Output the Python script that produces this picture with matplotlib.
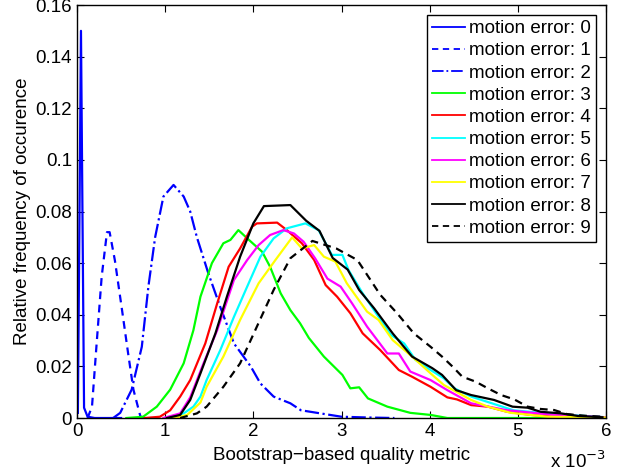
import matplotlib
matplotlib.use("Agg")
import matplotlib.pyplot as plt
from matplotlib.ticker import FuncFormatter

plt.rcParams['font.family'] = ['Liberation Sans', 'DejaVu Sans']

# x values in units of 1e-3
x0 = [0.01, 0.045, 0.08, 0.12, 0.2, 0.5]
y0 = [0.002, 0.150, 0.004, 0.0005, 0.0, 0.0]

x1 = [0.12, 0.17, 0.22, 0.28, 0.34, 0.37, 0.43, 0.51, 0.58, 0.64, 0.72, 0.8, 1.0]
y1 = [0.0, 0.0044, 0.0276, 0.0548, 0.072, 0.072, 0.061, 0.042, 0.025, 0.011, 0.0005, 0.0, 0.0]

x2 = [0.41, 0.49, 0.62, 0.735, 0.81, 0.886, 0.98, 1.095, 1.21, 1.284, 1.36, 1.49, 1.625,
      1.78, 1.97, 2.08, 2.23, 2.42, 2.54, 2.76, 3.0, 3.3, 3.6]
y2 = [0.0, 0.002, 0.011, 0.0276, 0.051, 0.070, 0.0858, 0.0903, 0.0858, 0.080, 0.070, 0.056, 0.043,
      0.0289, 0.020, 0.0134, 0.0083, 0.0057, 0.0030, 0.0018, 0.0005, 0.0002, 0.0]

x3 = [0.56, 0.75, 0.905, 1.057, 1.21, 1.32, 1.40, 1.53, 1.66, 1.74, 1.83, 1.95, 2.10, 2.19, 2.31,
      2.42, 2.53, 2.63, 2.80, 3.01, 3.10, 3.20, 3.30, 3.52, 3.78, 4.01, 4.2, 5.4]
y3 = [0.0, 0.0005, 0.0044, 0.011, 0.0212, 0.034, 0.047, 0.060, 0.0677, 0.069, 0.0728, 0.069, 0.0644,
      0.0586, 0.0483, 0.0418, 0.0367, 0.031, 0.0238, 0.0167, 0.0115, 0.0119, 0.0076, 0.0044, 0.002,
      0.0012, 0.0, 0.0]

x4 = [0.77, 0.94, 1.057, 1.17, 1.284, 1.455, 1.59, 1.72, 1.85, 1.985, 2.04, 2.27, 2.38, 2.55, 2.69,
      2.82, 2.95, 3.10, 3.24, 3.44, 3.65, 3.80, 4.01, 4.20, 4.31, 4.47, 4.66, 4.88, 5.15, 5.41, 6.0]
y4 = [0.0, 0.0005, 0.003, 0.0083, 0.0147, 0.0289, 0.0444, 0.0586, 0.0657, 0.0741, 0.0754, 0.0757,
      0.0728, 0.0677, 0.0612, 0.0515, 0.047, 0.0406, 0.0328, 0.0263, 0.0186, 0.016, 0.0121, 0.008,
      0.0072, 0.005, 0.0044, 0.0024, 0.0012, 0.0005, 0.0001]

x5 = [1.057, 1.21, 1.32, 1.40, 1.47, 1.625, 1.78, 1.93, 2.08, 2.23, 2.38, 2.59, 2.74, 2.89, 3.01,
      3.08, 3.24, 3.42, 3.56, 3.71, 3.84, 4.01, 4.16, 4.28, 4.47, 4.95, 5.41, 6.0]
y5 = [0.0, 0.0018, 0.0044, 0.0083, 0.0147, 0.0263, 0.0392, 0.0509, 0.0625, 0.0696, 0.0735, 0.0754,
      0.0728, 0.0632, 0.0632, 0.0573, 0.0483, 0.0392, 0.0322, 0.0289, 0.0225, 0.0186, 0.0154, 0.0115,
      0.0083, 0.003, 0.0015, 0.0003]

x6 = [0.98, 1.17, 1.284, 1.435, 1.59, 1.78, 1.93, 2.06, 2.19, 2.34, 2.46, 2.57, 2.70, 2.84, 2.99,
      3.12, 3.29, 3.52, 3.65, 3.78, 4.01, 4.20, 4.47, 4.88, 5.41, 6.0]
y6 = [0.0, 0.0018, 0.008, 0.0212, 0.034, 0.0535, 0.0612, 0.067, 0.0709, 0.0728, 0.0715, 0.0683,
      0.0619, 0.054, 0.0509, 0.0444, 0.0354, 0.025, 0.025, 0.018, 0.0147, 0.0108, 0.0057, 0.003,
      0.0012, 0.0003]

x7 = [1.095, 1.25, 1.40, 1.47, 1.66, 1.85, 2.06, 2.25, 2.44, 2.55, 2.69, 2.80, 2.93, 3.06, 3.29,
      3.42, 3.58, 3.80, 4.01, 4.16, 4.30, 4.47, 4.66, 4.92, 5.34, 6.0]
y7 = [0.0, 0.0012, 0.006, 0.0121, 0.0238, 0.038, 0.0522, 0.0612, 0.070, 0.0657, 0.067, 0.0625,
      0.0606, 0.0522, 0.0412, 0.038, 0.0302, 0.0238, 0.0173, 0.0128, 0.0102, 0.007, 0.0044, 0.002,
      0.0005, 0.0002]

x8 = [1.02, 1.17, 1.284, 1.40, 1.57, 1.70, 1.85, 2.00, 2.12, 2.42, 2.60, 2.75, 2.90, 3.07, 3.20,
      3.37, 3.58, 3.80, 4.03, 4.14, 4.30, 4.47, 4.73, 4.94, 5.11, 5.26, 5.49, 5.68, 5.96]
y8 = [0.0, 0.0012, 0.007, 0.0173, 0.0328, 0.047, 0.0625, 0.0754, 0.0821, 0.0825, 0.0764, 0.0725,
      0.062, 0.0575, 0.0496, 0.0425, 0.0328, 0.0238, 0.0193, 0.0167, 0.0108, 0.0089, 0.007, 0.0044,
      0.004, 0.0024, 0.0018, 0.0008, 0.0003]

x9 = [1.17, 1.36, 1.47, 1.66, 1.85, 2.04, 2.23, 2.42, 2.61, 2.67, 2.94, 3.18, 3.44, 3.63, 3.82,
      4.01, 4.14, 4.26, 4.37, 4.52, 4.66, 4.81, 4.96, 5.11, 5.26, 5.41, 5.56, 5.79, 5.96]
y9 = [0.0, 0.0018, 0.0044, 0.0121, 0.0212, 0.0354, 0.0496, 0.0619, 0.067, 0.0686, 0.0657, 0.0612,
      0.0477, 0.0406, 0.0328, 0.0276, 0.0238, 0.0199, 0.016, 0.0141, 0.0115, 0.0089, 0.0072, 0.0044,
      0.0035, 0.0031, 0.0015, 0.0008, 0.0005]

labels = ["motion error: %d" % i for i in range(10)]
xs = [x0, x1, x2, x3, x4, x5, x6, x7, x8, x9]
ys = [y0, y1, y2, y3, y4, y5, y6, y7, y8, y9]
colors = ['#0000ff', '#0000ff', '#0000ff', '#00ff00', '#ff0000', '#00ffff',
          '#ff00ff', '#ffff00', '#000000', '#000000']
styles = ['-', (0, (3.5, 2.5)), '-.', '-', '-', '-', '-', '-', '-', (0, (3.5, 2.5))]

fig = plt.figure(figsize=(6.24, 4.74), dpi=100)
ax = fig.add_axes([0.1234, 0.1181, 0.8478, 0.8713])

for x, y, c, ls, lab in zip(xs, ys, colors, styles, labels):
    ax.plot(x, y, color=c, linestyle=ls, linewidth=1.6, label=lab)

ax.set_xlim(0, 6)
ax.set_ylim(0, 0.16)
ax.set_xticks(range(7))
ax.set_yticks([0, 0.02, 0.04, 0.06, 0.08, 0.1, 0.12, 0.14, 0.16])
ax.yaxis.set_major_formatter(FuncFormatter(lambda v, p: "%g" % round(v, 2)))
ax.tick_params(direction='in', top=True, right=True, length=5, width=0.8, labelsize=13.5)
for s in ax.spines.values():
    s.set_linewidth(1.0)

ax.set_xlabel("Bootstrap\u2212based quality metric", fontsize=13.5, labelpad=5)
ax.set_ylabel("Relative frequency of occurence", fontsize=13.5, labelpad=3)
ax.text(1.0, -0.078, r"x 10$^{-3}$", transform=ax.transAxes, ha='right', va='top', fontsize=13.5)

leg = ax.legend(loc='upper right', fontsize=13.5, fancybox=False, framealpha=1,
                edgecolor='black', handlelength=1.8, handletextpad=0.2,
                labelspacing=0.27, borderpad=0.25, borderaxespad=0.55)
leg.get_frame().set_linewidth(1.0)
for h in leg.get_lines():
    h.set_linewidth(1.3)

plt.savefig("out.png", dpi=100)
